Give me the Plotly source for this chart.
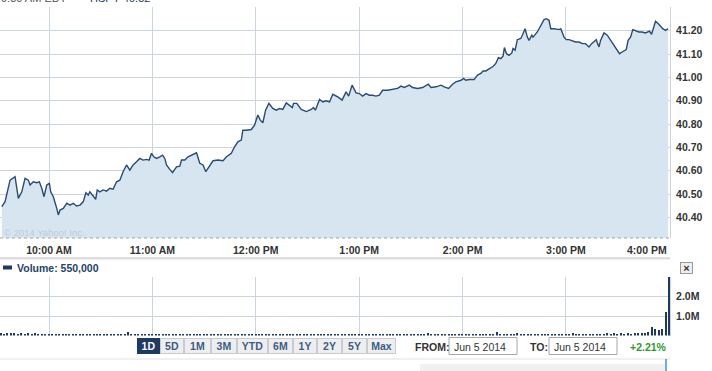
import plotly.graph_objects as go
from datetime import datetime, timedelta

W, H = 712, 371
base = datetime(2014, 6, 5, 9, 30)

# ---------------- data ----------------
open_minute = 0
open_price = 40.52
open_volume_k = 540

price_minutes = [
    2.6, 4.5, 7.4, 10.3, 12.2, 14.2, 16.1, 18.0, 19.0, 20.9,
    22.9, 24.4, 25.8, 27.1, 28.7, 30.2, 31.0, 32.5, 34.5, 35.4,
    36.4, 38.3, 40.3, 42.2, 44.1, 46.0, 48.0, 49.9, 51.4, 52.8,
    53.7, 55.7, 57.1, 58.0, 59.5, 61.5, 63.4, 65.3, 67.2, 69.2,
    71.1, 73.0, 75.0, 76.9, 78.8, 80.8, 82.7, 84.6, 86.6, 88.1,
    89.5, 90.8, 92.4, 94.3, 95.9, 97.2, 98.2, 100.1, 101.7, 104.0,
    105.9, 106.9, 108.8, 110.7, 112.7, 115.6, 117.5, 119.4, 121.0, 122.9,
    125.2, 128.1, 131.0, 133.0, 135.8, 137.7, 139.6, 141.6, 142.5, 144.5,
    147.4, 149.3, 151.2, 152.6, 154.1, 155.7, 157.6, 159.9, 161.9, 163.8,
    165.7, 167.7, 169.6, 171.2, 171.9, 173.8, 176.4, 179.3, 182.2, 183.5,
    184.6, 187.0, 188.9, 190.8, 192.8, 194.7, 197.6, 200.1, 202.4, 203.9,
    205.9, 208.2, 210.1, 212.0, 214.0, 215.9, 217.8, 219.8, 221.7, 223.6,
    226.5, 229.4, 232.3, 234.3, 236.2, 239.1, 241.0, 243.9, 246.8, 250.1,
    251.7, 254.6, 257.5, 259.4, 261.9, 264.2, 266.1, 269.1, 270.6, 271.9,
    273.9, 276.7, 278.7, 280.6, 281.9, 283.5, 285.4, 287.8, 289.3, 290.8,
    292.2, 293.5, 294.3, 295.5, 297.0, 298.6, 299.3, 300.5, 301.8, 303.8,
    304.7, 306.3, 307.6, 308.6, 310.2, 310.9, 313.4, 315.4, 317.3, 318.6,
    320.2, 321.2, 323.1, 326.0, 327.0, 328.9, 330.2, 331.8, 333.7, 335.6,
    337.6, 339.5, 341.4, 343.4, 344.9, 346.3, 347.6, 348.4, 349.2, 350.1,
    352.1, 354.0, 355.9, 358.8, 361.1, 362.6, 365.0, 366.1, 367.5, 368.8,
    370.4, 372.3, 374.2, 376.2, 378.5, 379.7, 381.0, 382.0, 383.9, 386.2,
    387.8, 389.3,
]
price_values = [
    40.446, 40.468, 40.560, 40.575, 40.482, 40.510, 40.568, 40.560, 40.539, 40.553,
    40.549, 40.553, 40.525, 40.489, 40.539, 40.546, 40.510, 40.489, 40.439, 40.411,
    40.432, 40.439, 40.461, 40.453, 40.461, 40.449, 40.453, 40.468, 40.506, 40.496,
    40.510, 40.489, 40.478, 40.518, 40.510, 40.518, 40.513, 40.525, 40.521, 40.553,
    40.560, 40.596, 40.625, 40.603, 40.625, 40.639, 40.653, 40.646, 40.649, 40.646,
    40.675, 40.660, 40.653, 40.660, 40.667, 40.653, 40.625, 40.606, 40.592, 40.617,
    40.620, 40.646, 40.646, 40.660, 40.667, 40.677, 40.632, 40.625, 40.596, 40.617,
    40.643, 40.646, 40.643, 40.660, 40.675, 40.703, 40.724, 40.732, 40.774, 40.774,
    40.777, 40.796, 40.839, 40.817, 40.806, 40.860, 40.889, 40.867, 40.860, 40.867,
    40.863, 40.891, 40.881, 40.871, 40.889, 40.889, 40.863, 40.854, 40.863, 40.871,
    40.860, 40.906, 40.895, 40.900, 40.895, 40.928, 40.917, 40.903, 40.938, 40.920,
    40.967, 40.934, 40.931, 40.920, 40.931, 40.924, 40.924, 40.920, 40.924, 40.945,
    40.945, 40.948, 40.953, 40.963, 40.957, 40.967, 40.957, 40.953, 40.957, 40.971,
    40.957, 40.960, 40.967, 40.960, 40.953, 40.971, 40.981, 40.988, 40.996, 40.988,
    40.991, 40.991, 41.010, 41.017, 41.028, 41.028, 41.038, 41.048, 41.060, 41.085,
    41.081, 41.091, 41.128, 41.102, 41.095, 41.105, 41.124, 41.117, 41.162, 41.167,
    41.181, 41.209, 41.173, 41.159, 41.181, 41.173, 41.195, 41.224, 41.248, 41.252,
    41.245, 41.209, 41.209, 41.205, 41.209, 41.173, 41.162, 41.162, 41.156, 41.152,
    41.152, 41.145, 41.145, 41.131, 41.145, 41.152, 41.162, 41.145, 41.131, 41.159,
    41.191, 41.181, 41.159, 41.124, 41.102, 41.109, 41.120, 41.159, 41.173, 41.205,
    41.199, 41.195, 41.195, 41.191, 41.199, 41.185, 41.216, 41.241, 41.228, 41.209,
    41.202, 41.209,
]

volume_minutes = list(range(2, 392, 2))
volume_values_k = [
    130, 90, 150, 110, 120, 80, 140, 100, 110, 90, 120, 70, 100, 80, 90,
    60, 50, 70, 40, 60, 50, 80, 50, 60, 40, 50, 70, 50, 40, 60,
    50, 40, 60, 50, 70, 40, 50, 180, 40, 70, 50, 60, 40, 50, 60,
    40, 60, 50, 40, 70, 50, 40, 60, 50, 40, 50, 60, 40, 50, 40,
    50, 40, 60, 50, 40, 50, 70, 40, 50, 60, 40, 50, 40, 60, 50,
    60, 50, 40, 70, 50, 40, 60, 50, 40, 50, 60, 40, 50, 40, 50,
    40, 50, 60, 40, 50, 40, 60, 50, 40, 50, 40, 60, 50, 40, 50,
    40, 50, 40, 60, 50, 40, 50, 40, 50, 60, 100, 50, 40, 60, 50,
    40, 50, 60, 40, 150, 60, 40, 50, 40, 60, 50, 40, 70, 50, 60,
    60, 80, 50, 70, 90, 60, 80, 70, 60, 180, 70, 60, 80, 90, 60,
    120, 70, 90, 60, 80, 100, 70, 60, 80, 50, 70, 90, 60, 70, 80,
    60, 110, 70, 60, 90, 70, 100, 60, 80, 90, 70, 110, 80, 120, 90,
    130, 100, 120, 90, 140, 110, 150, 130, 160, 450, 330, 300, 330, 1220, 3000,
]

price_ticks = [40.40, 40.50, 40.60, 40.70, 40.80, 40.90, 41.00, 41.10, 41.20, 41.30]
price_tick_labels = ["40.40", "40.50", "40.60", "40.70", "40.80", "40.90",
                     "41.00", "41.10", "41.20", ""]
volume_ticks = [1.0e6, 2.0e6, 3.0e6]
volume_tick_labels = ["1.0M", "2.0M", ""]
time_tick_hours = [10, 11, 12, 13, 14, 15]
time_tick_labels = ["10:00 AM", "11:00 AM", "12:00 PM", "1:00 PM", "2:00 PM", "3:00 PM"]
last_time_label = "4:00 PM"
range_buttons = ["1D", "5D", "1M", "3M", "YTD", "6M", "1Y", "2Y", "5Y", "Max"]
header_time = "9:30 AM EDT"
header_series = "HSPY 40.52"
volume_header = "Volume: 550,000"
from_date = "Jun 5 2014"
to_date = "Jun 5 2014"
change_text = "+2.21%"

# ---------------- helpers ----------------
def t(m):
    return base + timedelta(minutes=m)

def px(x):
    return x / W

def py(y):
    return 1 - y / H

FONT = "Liberation Sans, Arial, sans-serif"
LINE = "#2b4b72"
FILL = "#d7e5f1"
GRID = "#cbd5df"
NAVY = "#1c3a62"

tick_times = [t((h - 9.5) * 60) for h in time_tick_hours]
x_range = [t(1.56), t(390.4)]

fig = go.Figure()

fig.add_trace(go.Scatter(
    x=[t(m) for m in price_minutes], y=price_values,
    mode="lines", line=dict(color=LINE, width=1.4),
    fill="tozeroy", fillcolor=FILL, xaxis="x", yaxis="y", hoverinfo="skip"))
fig.add_trace(go.Scatter(
    x=[t(open_minute)], y=[open_price], mode="markers",
    marker=dict(color=LINE, size=5), cliponaxis=False,
    xaxis="x", yaxis="y", hoverinfo="skip"))
fig.add_trace(go.Bar(
    x=[t(m) for m in volume_minutes], y=[v * 1000 for v in volume_values_k],
    width=50000, marker=dict(color=NAVY, line=dict(width=0)),
    xaxis="x2", yaxis="y2", hoverinfo="skip"))
fig.add_trace(go.Scatter(
    x=[t(open_minute)], y=[open_volume_k * 1000], mode="markers",
    marker=dict(color=NAVY, size=5), cliponaxis=False,
    xaxis="x2", yaxis="y2", hoverinfo="skip"))

tickfont = dict(family=FONT, size=10.5, color="#333333", weight="bold")
xdom = [0, px(670)]

fig.update_layout(
    width=W, height=H, margin=dict(l=0, r=0, t=0, b=0, autoexpand=False),
    paper_bgcolor="white", plot_bgcolor="white", showlegend=False,
    bargap=0,
    xaxis=dict(domain=xdom, type="date", range=x_range, anchor="y",
               tickvals=tick_times, ticktext=time_tick_labels,
               showgrid=True, gridcolor=GRID, gridwidth=1, zeroline=False,
               showline=False, ticks="outside", ticklen=2,
               tickcolor="rgba(0,0,0,0)", tickfont=tickfont),
    yaxis=dict(domain=[py(238), py(7)], range=[40.312, 41.302], side="right",
               anchor="x", tickvals=price_ticks, ticktext=price_tick_labels,
               showgrid=True, gridcolor=GRID, zeroline=False,
               showline=True, linecolor=GRID, ticks="outside", ticklen=3,
               tickcolor="rgba(0,0,0,0)", tickfont=tickfont),
    xaxis2=dict(domain=xdom, type="date", range=x_range, anchor="y2",
                tickvals=tick_times, showticklabels=False,
                showgrid=True, gridcolor=GRID, zeroline=False, showline=False),
    yaxis2=dict(domain=[py(335.5), py(277)], range=[0, 3.0e6], side="right",
                anchor="x2", tickvals=volume_ticks, ticktext=volume_tick_labels,
                showgrid=True, gridcolor=GRID, zeroline=False,
                showline=True, linecolor=GRID, ticks="outside", ticklen=3,
                tickcolor="rgba(0,0,0,0)", tickfont=tickfont),
)

shapes = [
    # dotted base of price panel
    dict(type="line", xref="paper", yref="paper", x0=0, x1=px(670),
         y0=py(238), y1=py(238), line=dict(color="#9aa4ae", width=1, dash="dot")),
    # separator band under time labels
    dict(type="rect", xref="paper", yref="paper", x0=0, x1=px(670),
         y0=py(259.5), y1=py(257), fillcolor="#dedede", line=dict(width=0)),
    # volume legend icon
    dict(type="rect", xref="paper", yref="paper", x0=px(3), x1=px(12),
         y0=py(269.5), y1=py(265.5), fillcolor=NAVY, line=dict(width=0)),
    # navigator top line
    dict(type="line", xref="paper", yref="paper", x0=0, x1=px(670),
         y0=py(359), y1=py(359), line=dict(color="#e2e2e2", width=1)),
    dict(type="rect", xref="paper", yref="paper", x0=px(420), x1=px(665),
         y0=0, y1=py(364), fillcolor="#f0f0f0", line=dict(width=0)),
    dict(type="line", xref="paper", yref="paper", x0=px(666), x1=px(666),
         y0=0, y1=py(359), line=dict(color="#4a8fd0", width=1.5)),
    # date input boxes
    dict(type="rect", xref="paper", yref="paper", x0=px(449), x1=px(517),
         y0=py(354.5), y1=py(337.5), fillcolor="white",
         line=dict(color="#a8a8a8", width=1)),
    dict(type="rect", xref="paper", yref="paper", x0=px(549), x1=px(617),
         y0=py(354.5), y1=py(337.5), fillcolor="white",
         line=dict(color="#a8a8a8", width=1)),
]

anns = []

def ann(text, x, y, xanchor="left", yanchor="middle", size=10.5, color="#333333",
        bold=True, **kw):
    anns.append(dict(text=text, x=px(x), y=py(y), xref="paper", yref="paper",
                     xanchor=xanchor, yanchor=yanchor, showarrow=False,
                     font=dict(family=FONT, size=size, color=color,
                               weight="bold" if bold else "normal"), **kw))

ann(header_time, -1, 6, yanchor="bottom", color="#555555", bold=False, size=11)
ann("\u2014 " + header_series, 74, 6, yanchor="bottom", color=NAVY, bold=False, size=11)
ann(volume_header, 15, 267.5, color="#24436b")
ann(last_time_label, 669, 250, xanchor="right")
ann("\u00a9 2014 Yahoo! Inc.", 2, 233, color="#c3cad2", bold=False, size=9.5)
ann("\u00d7", 680, 268, color="#333333", size=11,
    bgcolor="#eeeeee", bordercolor="#999999", borderwidth=1, borderpad=0,
    width=11, height=10)

button_edges = [137, 160, 184, 211, 237, 268, 293, 317, 342, 367, 396]
for i, lab in enumerate(range_buttons):
    x0, x1 = button_edges[i], button_edges[i + 1]
    sel = i == 0
    ann(lab, x0, 338, yanchor="top", color="white" if sel else "#3d5d85",
        bgcolor=NAVY if sel else "#eeeeee",
        bordercolor=NAVY if sel else "#c6ccd2", borderwidth=1, borderpad=0,
        width=x1 - x0 - 2, height=14, align="center", valign="middle")

ann("FROM:", 413, 346.5, color="#333333")
ann(from_date, 452, 346.5, bold=False, color="#333333")
ann("TO:", 528, 346.5, color="#333333")
ann(to_date, 552, 346.5, bold=False, color="#333333")
ann(change_text, 628, 346.5, color="#2e9a2e")

fig.update_layout(shapes=shapes, annotations=anns)

fig.write_html("out.html", config={"displayModeBar": False},
               post_script="document.body.style.margin='0';document.body.style.overflow='hidden';")
